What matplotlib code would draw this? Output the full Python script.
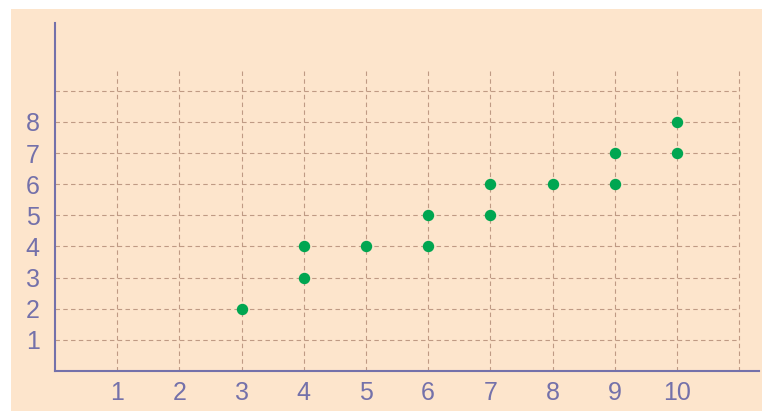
import matplotlib.pyplot as plt
from matplotlib.patches import Rectangle

# data
x_vals = [3, 4, 4, 5, 6, 6, 7, 7, 8, 9, 9, 10, 10]
y_vals = [2, 3, 4, 4, 4, 5, 5, 6, 6, 6, 7, 7, 8]
x_ticks = [1, 2, 3, 4, 5, 6, 7, 8, 9, 10]
y_ticks = [1, 2, 3, 4, 5, 6, 7, 8]
grid_x = [1, 2, 3, 4, 5, 6, 7, 8, 9, 10, 11]
grid_y = [1, 2, 3, 4, 5, 6, 7, 8, 9]

W, H = 762, 411
fig = plt.figure(figsize=(W / 100, H / 100), dpi=100)
fig.patch.set_facecolor('white')
fig.patches.append(Rectangle((11 / W, 0), 1 - 11 / W, (H - 9) / H,
                             transform=fig.transFigure, facecolor='#FDE5CC',
                             edgecolor='none', zorder=-10))

ax = fig.add_axes([55 / W, (H - 371) / H, (759 - 55) / W, (371 - 23) / H])
ax.set_facecolor('none')
ax.set_xlim(0, 11.32)
ax.set_ylim(0, 11.18)

grid_col = '#BF9A84'
ax.hlines(grid_y, 0, 11, colors=grid_col, linestyles=(0, (4, 3)), linewidth=0.8, zorder=1)
ax.vlines(grid_x, 0, 9.7, colors=grid_col, linestyles=(0, (4, 3)), linewidth=0.8, zorder=1)

ax.plot(x_vals, y_vals, 'o', color='#00A651', markersize=7.2, zorder=3)

axis_col = '#7471AA'
for s in ['top', 'right']:
    ax.spines[s].set_visible(False)
for s in ['left', 'bottom']:
    ax.spines[s].set_color(axis_col)
    ax.spines[s].set_linewidth(1.5)

ax.set_xticks(x_ticks)
ax.set_yticks(y_ticks)
ax.tick_params(length=0, labelsize=18, labelcolor=axis_col)
ax.tick_params(axis='x', pad=7)
ax.tick_params(axis='y', pad=11)
for lab in ax.get_xticklabels() + ax.get_yticklabels():
    lab.set_fontfamily('Liberation Sans')

fig.savefig('out.png', dpi=100)
